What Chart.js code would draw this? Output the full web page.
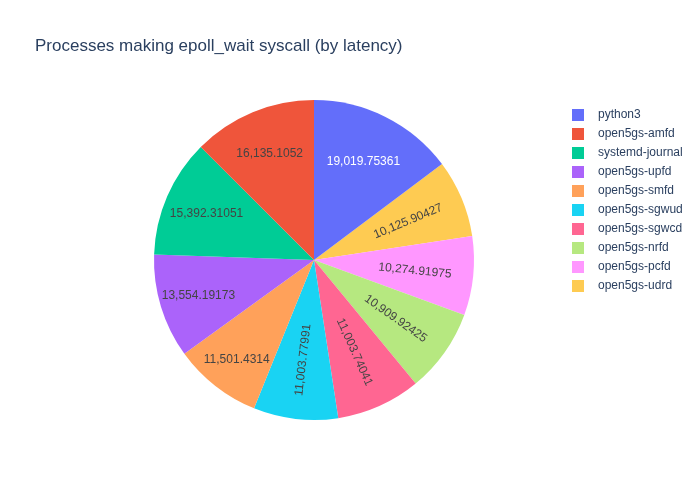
<!DOCTYPE html>
<html>
<head>
<meta charset="utf-8">
<script src="https://cdn.jsdelivr.net/npm/chart.js@4.4.1/dist/chart.umd.min.js"></script>
<style>
  html, body { margin: 0; padding: 0; background: #fff; }
  #wrap { width: 700px; height: 500px; position: relative; }
</style>
</head>
<body>
<div id="wrap"><canvas id="c" width="700" height="500"></canvas></div>
<script>
// ---- data ----
const chartTitle = 'Processes making epoll_wait syscall (by latency)';
const processes = ['python3', 'open5gs-amfd', 'systemd-journal', 'open5gs-upfd', 'open5gs-smfd',
                   'open5gs-sgwud', 'open5gs-sgwcd', 'open5gs-nrfd', 'open5gs-pcfd', 'open5gs-udrd'];
const latencies = [19019.75361, 16135.1052, 15392.31051, 13554.19173, 11501.4314,
                   11003.77991, 11003.74041, 10909.92425, 10274.91975, 10125.90427];
const sliceColors = ['#636efa', '#EF553B', '#00cc96', '#ab63fa', '#FFA15A',
                     '#19d3f3', '#FF6692', '#B6E880', '#FF97FF', '#FECB52'];

// ---- style ----
const FONT = '"Liberation Sans", Arial, sans-serif';
const TITLE_COLOR = '#2a3f5f';
const DARK_TEXT = '#444';

// Plotly-style counterclockwise direction: draw reversed order, rotated by first slice
const total = latencies.reduce((a, b) => a + b, 0);
const revLabels = processes.slice().reverse();
const revValues = latencies.slice().reverse();
const revColors = sliceColors.slice().reverse();
const startRotation = latencies[0] / total * 360;

function fmt(v) {
  const parts = String(v).split('.');
  parts[0] = parts[0].replace(/\B(?=(\d{3})+(?!\d))/g, ',');
  return parts.join('.');
}
function textColorFor(hex) {
  const h = hex.replace('#', '');
  const r = parseInt(h.substr(0, 2), 16), g = parseInt(h.substr(2, 2), 16), b = parseInt(h.substr(4, 2), 16);
  const br = (r * 299 + g * 587 + b * 114) / 1000;
  return br >= 128 ? DARK_TEXT : '#ffffff';
}

// Plotly inside-text placement (auto orientation)
function maxHalfSize(a, halfAngle, r) {
  const q = a + 1 / (2 * Math.tan(halfAngle));
  return r * Math.min(1 / (Math.sqrt(q * q + 0.5) + q), 1 / (Math.sqrt(a * a + 0.5) + a));
}
function normRot(deg) { return ((deg + 720) % 180) - 90; }

const sliceLabelPlugin = {
  id: 'sliceLabels',
  afterDatasetsDraw(chart) {
    const ctx = chart.ctx;
    const meta = chart.getDatasetMeta(0);
    const ds = chart.data.datasets[0];
    ctx.save();
    ctx.font = '12px ' + FONT;
    meta.data.forEach((arc, i) => {
      const p = arc.getProps(['x', 'y', 'startAngle', 'endAngle', 'outerRadius'], true);
      const r = p.outerRadius;
      const half = (p.endAngle - p.startAngle) / 2;
      const mid = (p.startAngle + p.endAngle) / 2;
      const text = fmt(ds.data[i]);
      const m = ctx.measureText(text);
      const w = m.width;
      const asc = m.fontBoundingBoxAscent || 11;
      const desc = m.fontBoundingBoxDescent || 3;
      const h = asc + desc;
      const candidates = [];
      const sinH = Math.sin(Math.min(half, Math.PI / 2));
      const rIn = Math.min(sinH / (1 + sinH), 0.5);
      const diag = Math.sqrt(w * w + h * h);
      let chosen = null;
      const hz = { scale: rIn * r * 2 / diag, rCenter: 1 - rIn, rotate: 0 };
      if (hz.scale >= 1) chosen = hz; else candidates.push(hz);
      if (!chosen) {
        const rr = Math.max(0, r - 6);
        const midDeg = mid * 180 / Math.PI;
        let a = w / h, s = maxHalfSize(a, half, rr);
        candidates.push({ scale: s * 2 / h, rCenter: Math.cos(s / rr) - a * s / rr, rotate: normRot(midDeg + 90) });
        a = h / w; s = maxHalfSize(a, half, rr);
        candidates.push({ scale: s * 2 / w, rCenter: Math.cos(s / rr) - a * s / rr, rotate: normRot(midDeg + 180) });
        chosen = candidates.reduce((b, c) => (c.scale > b.scale ? c : b), candidates[0]);
      }
      const sc = Math.min(1, chosen.scale);
      const cx = p.x + Math.cos(mid) * r * chosen.rCenter;
      const cy = p.y + Math.sin(mid) * r * chosen.rCenter;
      ctx.save();
      ctx.translate(cx, cy);
      ctx.rotate(chosen.rotate * Math.PI / 180);
      ctx.scale(sc, sc);
      ctx.fillStyle = textColorFor(ds.backgroundColor[i]);
      ctx.textAlign = 'center';
      ctx.textBaseline = 'alphabetic';
      ctx.fillText(text, 0, (asc - desc) / 2);
      ctx.restore();
    });
    ctx.restore();
  }
};

const decorPlugin = {
  id: 'decor',
  beforeDraw(chart) {
    const ctx = chart.ctx;
    ctx.save();
    ctx.fillStyle = '#ffffff';
    ctx.fillRect(0, 0, chart.width, chart.height);
    ctx.restore();
  },
  afterDraw(chart) {
    const ctx = chart.ctx;
    ctx.save();
    // title
    ctx.font = '17px ' + FONT;
    ctx.fillStyle = TITLE_COLOR;
    ctx.textAlign = 'left';
    ctx.textBaseline = 'alphabetic';
    ctx.fillText(chartTitle, 35, 51);
    // legend (in original trace order)
    ctx.font = '12px ' + FONT;
    ctx.textBaseline = 'middle';
    processes.forEach((name, i) => {
      const y = 115 + i * 19;
      ctx.fillStyle = sliceColors[i];
      ctx.fillRect(572, y - 6, 12, 12);
      ctx.fillStyle = TITLE_COLOR;
      ctx.fillText(name, 598, y);
    });
    ctx.restore();
  }
};

new Chart(document.getElementById('c'), {
  type: 'pie',
  data: {
    labels: revLabels,
    datasets: [{
      data: revValues,
      backgroundColor: revColors,
      borderWidth: 0,
      hoverOffset: 0,
      offset: 0
    }]
  },
  options: {
    responsive: false,
    animation: false,
    events: [],
    rotation: startRotation,
    layout: { padding: { left: 154, right: 226, top: 100, bottom: 80 } },
    plugins: {
      legend: { display: false },
      title: { display: false },
      tooltip: { enabled: false }
    }
  },
  plugins: [sliceLabelPlugin, decorPlugin]
});
</script>
</body>
</html>
